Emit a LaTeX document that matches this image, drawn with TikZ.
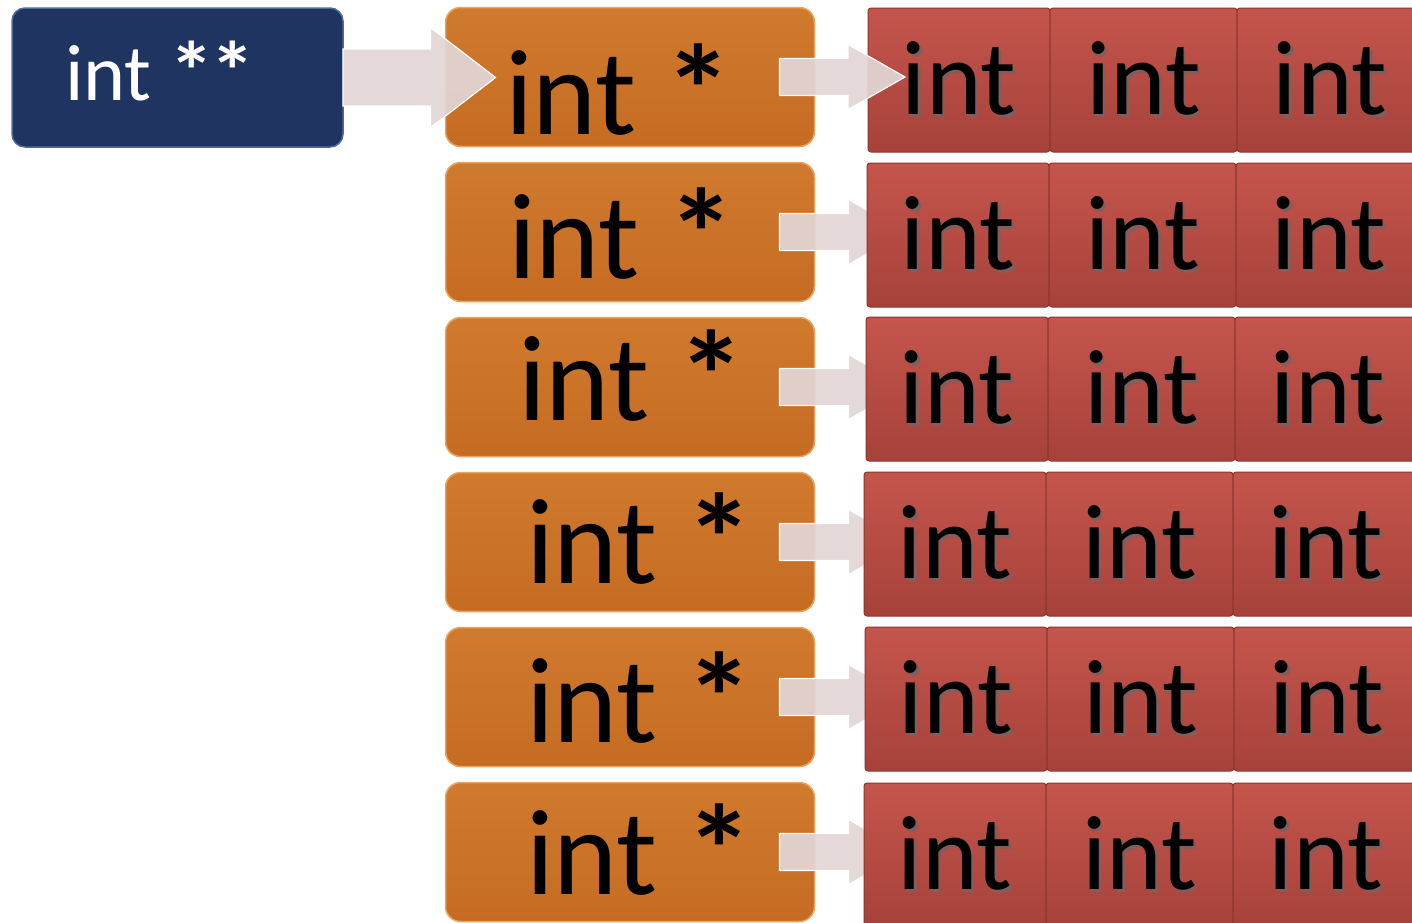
\documentclass[tikz,border=0pt]{standalone}
\usepackage{fontspec}
\setmainfont{Carlito}
\usetikzlibrary{calc}

\definecolor{navyfill}{HTML}{1F3461}
\definecolor{navyedge}{HTML}{506A9A}
\definecolor{ptrtop}{HTML}{D07A2E}
\definecolor{ptrbot}{HTML}{C56C22}
\definecolor{ptredge}{HTML}{EDA462}
\definecolor{celltop}{HTML}{C5554C}
\definecolor{cellbot}{HTML}{A6423B}
\definecolor{celledge}{HTML}{8C342F}
\definecolor{cellshadow}{HTML}{4E1814}
\definecolor{arrowfill}{HTML}{E2D5D5}

% text with a soft drop shadow, as used in the value cells
\newcommand\shadowtext[1]{\makebox[0pt][l]{\hspace*{2.5pt}\raisebox{-2.5pt}{\textcolor{cellshadow!70}{#1}}}#1}
% heavier asterisk
\newcommand\ptrstar{\scalebox{1.12}[1.04]{\textbf{*}}}

% block arrow: #1 style, #2 start point, #3 tip point (only its x is used),
% #4 shaft half height, #5 head half height, #6 head length
\newcommand\blockarrow[6]{%
  \path[#1] let \p1=(#2), \p2=(#3) in
    (\x1,\y1+#4) -- (\x2-#6,\y1+#4) -- (\x2-#6,\y1+#5) -- (\x2,\y1)
    -- (\x2-#6,\y1-#5) -- (\x2-#6,\y1-#4) -- (\x1,\y1-#4) -- cycle;}

\tikzset{
  every node/.style={inner sep=0pt, outer sep=0pt},
  rootbox/.style={rounded corners=13pt, fill=navyfill, draw=navyedge, line width=1.5pt,
    minimum width=331pt, minimum height=139pt},
  roottext/.style={anchor=base west, text=white, font=\fontsize{80}{90}\selectfont},
  ptrbox/.style={rounded corners=15pt, top color=ptrtop, bottom color=ptrbot,
    draw=ptredge, line width=1.5pt, minimum width=369pt, minimum height=139pt},
  ptrtext/.style={anchor=base west, text=black, font=\fontsize{122}{130}\selectfont},
  cellbox/.style={rounded corners=3pt, top color=celltop, bottom color=cellbot,
    draw=celledge, line width=1pt, minimum height=144pt, anchor=north west,
    text=black, font=\fontsize{106}{116}\selectfont},
  arrowbody/.style={fill=arrowfill, draw=white, line width=1.2pt, fill opacity=0.93},
}

\begin{document}
\begin{tikzpicture}[x=1pt, y=-1pt]
  \useasboundingbox (0,0) rectangle (1412,922);
  \clip (0,0) rectangle (1412,922);

  % the int ** variable
  \node[rootbox] (root) at (177.5,77.5) {};
  \node[roottext] (rootlabel) at (65,100) {int \ptrstar\kern-4pt\ptrstar};

  % the column of int * pointers
  \foreach \k/\cy/\tx/\ty in {1/77/505/134, 2/232/508/278, 3/387/518/420,
                              4/542/526/583, 5/697/526/742, 6/852/526/894} {
    \node[ptrbox] (ptr\k) at (630,\cy) {};
    \node[ptrtext] (ptrlabel\k) at (\tx,\ty) {int \ptrstar};
  }

  % row arrows 2-6 run underneath the value cells
  \foreach \k in {2,...,6} {
    \coordinate (tip\k) at ($(ptr\k.west)+(460,0)$);
    \blockarrow{arrowbody}{$(ptr\k.east)+(-35,0)$}{tip\k}{18.5pt}{32.5pt}{57pt}
  }

  % rows of int values
  \foreach \k/\top/\xa in {1/8/868, 2/163/867, 3/317/866, 4/472/864, 5/627/865, 6/783/864} {
    \node[cellbox, minimum width=182pt] (cell\k a) at (\xa,\top) {\shadowtext{int}};
    \node[cellbox, minimum width=187pt] (cell\k b) at (cell\k a.north east) {\shadowtext{int}};
    \node[cellbox, minimum width=186pt] (cell\k c) at (cell\k b.north east) {\shadowtext{int}};
  }

  % first row arrow lies on top of its first cell
  \coordinate (tip1) at ($(cell1a.west)+(37,0)$);
  \blockarrow{arrowbody}{$(ptr1.east)+(-35,0)$}{tip1}{18.5pt}{32.5pt}{57pt}

  % int ** points to the first int *
  \coordinate (roottip) at ($(ptr1.west)+(50,0)$);
  \blockarrow{arrowbody}{root.east}{roottip}{28.5pt}{50pt}{65pt}
\end{tikzpicture}
\end{document}
